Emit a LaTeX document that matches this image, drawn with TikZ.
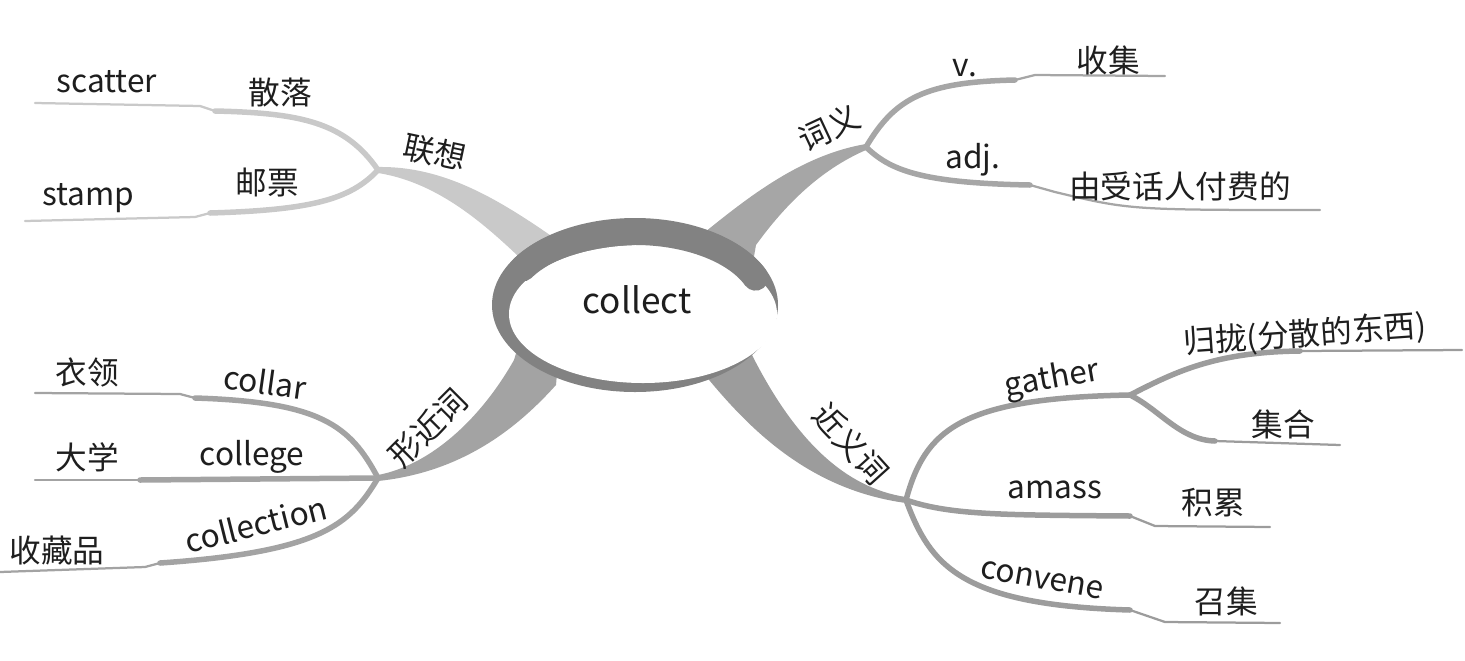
\documentclass[tikz,border=0pt]{standalone}
\usepackage{fontspec}
\setmainfont{Noto Sans CJK SC}
\usetikzlibrary{positioning}

\begin{document}
\begin{tikzpicture}[x=0.2mm, y=-0.2mm, line cap=round, line join=round]

		% Colors
		\definecolor{AssocGray}{RGB}{201,201,201}
		\definecolor{MeanGray}{RGB}{166,166,166}
		\definecolor{FormGray}{RGB}{163,163,163}
		\definecolor{SynGray}{RGB}{156,156,156}
		\definecolor{RingGray}{RGB}{130,130,130}
		\definecolor{InkText}{RGB}{30,30,30}

		% Styles
		\tikzset{
			word/.style={font=\fontsize{18}{20}\selectfont, text=InkText, inner sep=0pt},
			fat/.style={line width=1.1mm},
			slim/.style={line width=0.45mm}
		}

		\useasboundingbox (0,0) rectangle (1465,660);

		% Hubs and bends
		\coordinate (H1) at (378,170);
		\coordinate (H2) at (866,147);
		\coordinate (H3) at (378,478);
		\coordinate (H4) at (906,500);
		\coordinate (H5) at (1130,395);

		% Main branches (tapered, behind the ellipse)
		\fill[AssocGray] (378,167) .. controls (445,166) and (500,200) .. (560,242)
			-- (560,275) -- (522,275) -- (518,256) .. controls (480,220) and (435,182) .. (378,173) -- cycle;
		\fill[MeanGray] (866,144) .. controls (800,155) and (745,200) .. (705,232)
			-- (700,268) -- (752,268) -- (756,245) .. controls (785,205) and (820,170) .. (866,150) -- cycle;
		\fill[FormGray] (378,475) .. controls (430,465) and (480,420) .. (514,360)
			-- (520,340) -- (560,340) -- (556,385) .. controls (520,425) and (465,472) .. (378,481) -- cycle;
		\fill[SynGray] (906,497) .. controls (845,488) and (795,440) .. (752,355)
			-- (745,335) -- (705,345) -- (705,375) .. controls (750,430) and (810,490) .. (906,503) -- cycle;

		% Sub-branches
		\draw[AssocGray, fat] (H1) .. controls (345,122) and (300,113) .. (215,111) coordinate (sk);
		\draw[AssocGray, slim] (sk) -- ++(-15,-5) -- (35,103) coordinate (se);
		\draw[AssocGray, fat] (H1) .. controls (350,200) and (310,210) .. (210,213) coordinate (tk);
		\draw[AssocGray, slim] (tk) -- ++(-15,4) -- (25,221) coordinate (te);

		\draw[MeanGray, fat] (H2) .. controls (895,98) and (925,82) .. (1015,80) coordinate (vk);
		\draw[MeanGray, slim] (vk) -- ++(20,-5) -- (1165,76) coordinate (ve);
		\draw[MeanGray, fat] (H2) .. controls (890,170) and (920,183) .. (1030,185) coordinate (ak);
		\draw[MeanGray, slim] (ak) -- ++(25,7) .. controls (1130,210) .. (1320,210) coordinate (ae);

		\draw[FormGray, fat] (H3) .. controls (350,425) and (320,402) .. (195,398) coordinate (ck);
		\draw[FormGray, slim] (ck) -- ++(-15,-4) -- (35,393) coordinate (ce);
		\draw[FormGray, fat] (H3) -- (140,480) coordinate (gk);
		\draw[FormGray, slim] (gk) -- (35,480) coordinate (ge);
		\draw[FormGray, fat] (H3) .. controls (350,525) and (320,552) .. (160,563) coordinate (lk);
		\draw[FormGray, slim] (lk) -- ++(-15,4) -- (0,572) coordinate (le);

		\draw[SynGray, fat] (H4) .. controls (925,430) and (960,398) .. (H5);
		\draw[SynGray, fat] (H5) .. controls (1175,372) and (1215,352) .. (1300,351) coordinate (rk);
		\draw[SynGray, slim] (rk) -- (1462,350) coordinate (re);
		\draw[SynGray, fat] (H5) .. controls (1160,410) and (1180,440) .. (1215,441) coordinate (jk);
		\draw[SynGray, slim] (jk) -- (1340,445) coordinate (je);
		\draw[SynGray, fat] (H4) .. controls (950,515) and (1000,515) .. (1130,516) coordinate (mk);
		\draw[SynGray, slim] (mk) -- ++(25,10) -- (1270,527) coordinate (me);
		\draw[SynGray, fat] (H4) .. controls (930,565) and (960,605) .. (1130,610) coordinate (nk);
		\draw[SynGray, slim] (nk) -- ++(35,12) -- (1280,623) coordinate (ne);

		% Centre ellipse
		\fill[RingGray] (635,305) ellipse [x radius=143, y radius=87];
		\fill[white] (643,314) ellipse [x radius=134, y radius=69];
		\draw[RingGray, line width=5.2mm] (635,305) ++(-150:130 and 73)
			arc [start angle=-150, end angle=-22, x radius=130, y radius=73];
		\node[word, font=\fontsize{20}{22}\selectfont] (C) at (637,300) {collect};

		% Labels
		\node[word] (scatter) at (107,82) {scatter};
		\node[word] (sanluo) at (280,93) {散落};
		\node[word, rotate=-12] (lianxiang) at (435,152) {联想};
		\node[word] (youpiao) at (267,183) {邮票};
		\node[word] (stamp) at (88,198) {stamp};

		\node[word, rotate=25] (ciyi) at (829,128) {词义};
		\node[word] (verb) at (965,68) {v.};
		\node[word] (shouji) at (1108,60) {收集};
		\node[word] (adj) at (973,160) {adj.};
		\node[word] (fufei) at (1180,186) {由受话人付费的};

		\node[word, rotate=45] (xingjin) at (428,428) {形近词};
		\node[word] (yiling) at (87,372) {衣领};
		\node[word, rotate=-8] (collar) at (265,382) {collar};
		\node[word] (daxue) at (87,457) {大学};
		\node[word] (college) at (252,457) {college};
		\node[word] (shoucang) at (57,550) {收藏品};
		\node[word, rotate=14] (collection) at (256,524) {collection};

		\node[word, rotate=-48] (jinyi) at (851,444) {近义词};
		\node[word, rotate=10] (gather) at (1052,380) {gather};
		\node[word, rotate=4] (guilong) at (1305,335) {归拢(分散的东西)};
		\node[word] (jihe) at (1283,424) {集合};
		\node[word] (amass) at (1055,490) {amass};
		\node[word] (jilei) at (1213,503) {积累};
		\node[word, rotate=-10] (convene) at (1042,580) {convene};
		\node[word] (zhaoji) at (1226,601) {召集};

	\end{tikzpicture}
\end{document}
